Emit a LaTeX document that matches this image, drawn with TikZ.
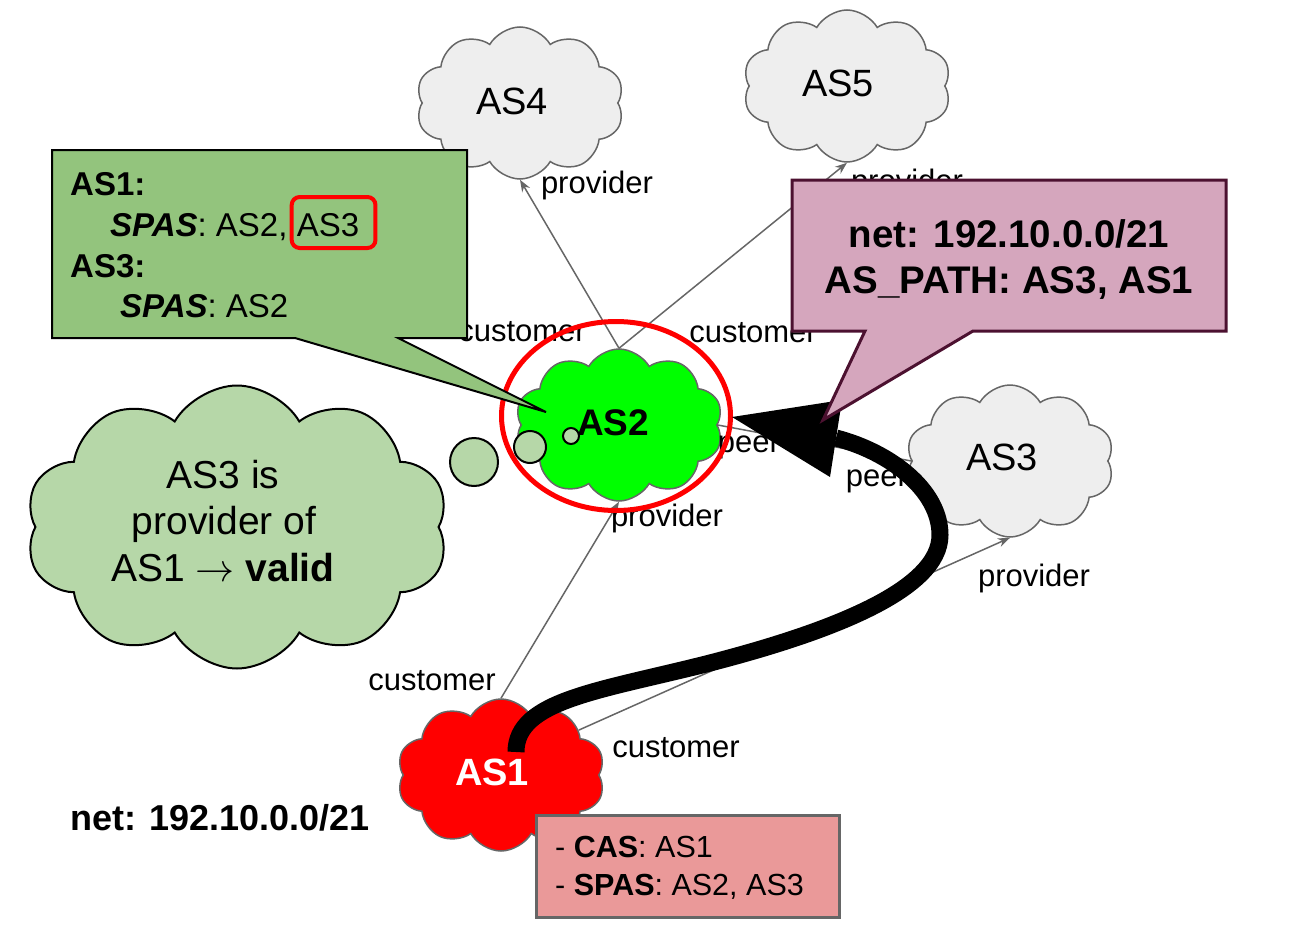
\RequirePackage{fix-cm}
\documentclass[tikz,border=0pt]{standalone}
\usepackage{fontspec}
\setmainfont{Liberation Sans}
\usetikzlibrary{shapes.symbols,shapes.geometric,arrows.meta,calc}
\newcommand\myfs[1]{\fontsize{#1}{#1}\selectfont}
\definecolor{lgrey}{HTML}{666666}
\definecolor{cgrey}{HTML}{EEEEEE}
\definecolor{thgreen}{HTML}{B6D7A8}
\definecolor{boxgreen}{HTML}{93C47D}
\definecolor{boxpink}{HTML}{D5A6BD}
\definecolor{pinkborder}{HTML}{4C1130}
\definecolor{salmon}{HTML}{EA9999}
\definecolor{brightgreen}{HTML}{00FF00}
\definecolor{pureRed}{HTML}{FF0000}
\begin{document}
\begin{tikzpicture}[x=1pt,y=-1pt,
  cloudbase/.style={cloud, cloud puffs=10, cloud puff arc=120, cloud ignores aspect,
    minimum width=208pt, minimum height=152pt, inner sep=0pt, draw=lgrey, line width=1.5pt},
  greycloud/.style={cloudbase, fill=cgrey},
  cloudtxt/.style={inner sep=0pt, text height=27pt, text depth=0pt, font=\myfs{38}},
  conn/.style={draw=lgrey, line width=1.5pt},
  provarrow/.style={-{Stealth[length=12pt,width=9pt]}},
  lbl/.style={inner sep=0pt, anchor=base, font=\myfs{31}},
  txt/.style={inner sep=0pt, anchor=base west},
  ctxt/.style={inner sep=0pt, anchor=base},
  thought/.style={fill=thgreen, draw=black, line width=2pt},
  bubble/.style={circle, thought, inner sep=0pt},
]
\useasboundingbox (0,0) rectangle (1306,934);

% clouds
\node[greycloud] (AS4) at (520,103) {};
\node[cloudtxt] (AS4t) at (512,101) {AS4};
\node[greycloud] (AS5) at (847,86) {};
\node[cloudtxt] (AS5t) at (838,83) {AS5};
\node[greycloud] (AS3) at (1010,461) {};
\node[cloudtxt] (AS3t) at (1002,457) {AS3};
\node[cloudbase, fill=brightgreen] (AS2) at (619,425) {};
\node[cloudtxt, font=\myfs{37}\bfseries] (AS2t) at (613,422) {AS2};
\node[cloudbase, fill=pureRed] (AS1) at (501,775) {};
\node[cloudtxt, font=\myfs{38}\bfseries, text=white] (AS1t) at (492,772) {AS1};

% connectors
\draw[conn, provarrow] (AS2.north) -- (AS4.south);
\draw[conn, provarrow] (AS2.north) -- (AS5.south);
\draw[conn] (AS2.east) -- (AS3.west);
\draw[conn, provarrow] (AS1.north) -- (AS2.south);
\draw[conn, provarrow] (AS1.30) -- (AS3.south);

% connector labels
\node[lbl] (l1) at (597,193) {provider};
\node[lbl] (l2) at (522,341) {customer};
\node[lbl] (l3) at (753,342) {customer};
\node[lbl] (l4) at (907,191) {provider};
\node[lbl] (l5) at (749,452) {peer};
\node[lbl] (l6) at (877,486) {peer};
\node[lbl] (l7) at (667,526) {provider};
\node[lbl] (l8) at (432,690) {customer};
\node[lbl] (l9) at (676,757) {customer};
\node[lbl] (l10) at (1034,586) {provider};

% highlight ring around AS2
\node[ellipse, draw=pureRed, line width=5pt, minimum width=229pt, minimum height=189pt, inner sep=0pt] (ring) at (616,416) {};

% thought cloud
\node[cloud, cloud puffs=10, cloud puff arc=120, cloud ignores aspect,
  minimum width=423pt, minimum height=283pt, thought] (think) at (237,527) {};
\node[bubble, minimum size=48pt] (b1) at (474,462) {};
\node[bubble, minimum size=32pt] (b2) at (530,447) {};
\node[bubble, minimum size=16pt] (b3) at (571,436) {};
\node[ctxt, font=\myfs{39}] (th1) at (223,488) {AS3 is};
\node[ctxt, font=\myfs{39}] (th2) at (224,534) {provider of};
\node[ctxt, font=\myfs{39}] (th3) at (223,581) {AS1 $\rightarrow$ \textbf{valid}};

% green callout
\path[fill=boxgreen, draw=black, line width=2pt]
  (52,150) -- (467,150) -- (467,338) -- (398,338) -- (546,412) -- (295,338) -- (52,338) -- cycle;
\node[txt, font=\myfs{33}] (g1) at (70,195) {\textbf{AS1:}};
\node[txt, font=\myfs{33}] (g2) at (110,236) {\textbf{\textit{SPAS}}: AS2,};
\node[txt, font=\myfs{33}] (g2b) at ($(g2.base east)+(9,0)$) {AS3};
\draw[draw=pureRed, line width=4pt, rounded corners=8pt]
  ($(g2b.base west)+(-5,-39)$) rectangle ($(g2b.base east)+(16,12)$);
\node[txt, font=\myfs{33}] (g3) at (70,277) {\textbf{AS3:}};
\node[txt, font=\myfs{33}] (g4) at (120,317) {\textbf{\textit{SPAS}}: AS2};

% thick announcement arrow AS1 -> AS2
\coordinate (tstart) at (516,752);
\coordinate (tbase) at (836,438);
\coordinate (ttip) at (732,417);
\draw[line width=17pt, black]
  (tstart) .. controls (516,700) and (600,691) .. (710,663)
  .. controls (830,632) and (940,590) .. (940,535)
  .. controls (940,490) and (890,452) .. (tbase);
\fill[black] (ttip) -- (842,400) -- (830,477) -- cycle;

% pink callout
\path[fill=boxpink, draw=pinkborder, line width=3pt]
  (792,180) -- (1226,180) -- (1226,331) -- (973,331) -- (823,420) -- (865,331) -- (792,331) -- cycle;
\node[ctxt, font=\myfs{38.5}] (p1) at (1009,247) {\textbf{net: 192.10.0.0/21}};
\node[ctxt, font=\myfs{38.5}] (p2) at (1009,293) {\textbf{AS\_PATH: AS3, AS1}};

% AS1 info box
\node[draw=lgrey, fill=salmon, line width=3pt, minimum width=303pt, minimum height=102pt, inner sep=0pt] (casbox) at (688,866) {};
\node[txt, font=\myfs{30.5}] (c1) at (555,857) {- \textbf{CAS}: AS1};
\node[txt, font=\myfs{30.5}] (c2) at (555,895) {- \textbf{SPAS}: AS2, AS3};

% net label
\node[txt, font=\myfs{36}] (net) at (70,830) {\textbf{net: 192.10.0.0/21}};
\end{tikzpicture}
\end{document}
